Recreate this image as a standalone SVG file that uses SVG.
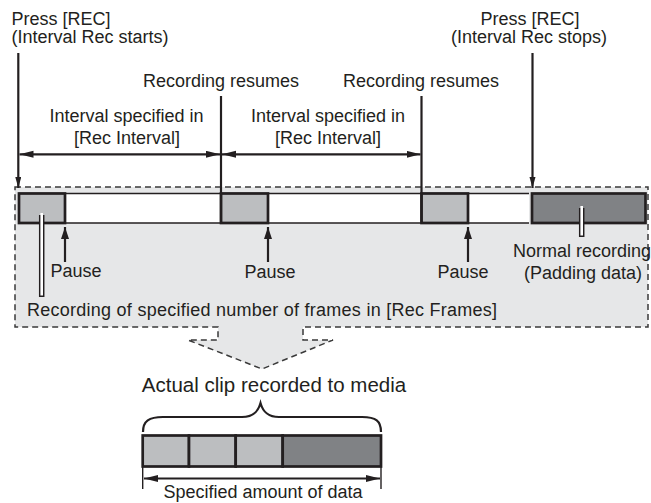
<svg xmlns="http://www.w3.org/2000/svg" width="651" height="503" viewBox="0 0 651 503">
<style>
text{font-family:"Liberation Sans",Arial,sans-serif;font-size:18px;fill:#231f20}
.ln{stroke:#231f20;stroke-width:2.2;fill:none}
.thin{stroke:#231f20;stroke-width:1.4;fill:none}
.box{stroke:#231f20;stroke-width:2.7}
.lg{fill:#bcbec0}
.dg{fill:#808285}
.mk1{stroke:#231f20;stroke-width:5.5}
.mk2{stroke:#ffffff;stroke-width:2.6}
</style>
<defs>
<marker id="ah" markerUnits="userSpaceOnUse" markerWidth="15" markerHeight="8" refX="14" refY="3.5" orient="auto-start-reverse"><path d="M0,0 L14,3.5 L0,7 Z" fill="#231f20"/></marker>
<marker id="av" markerUnits="userSpaceOnUse" markerWidth="12" markerHeight="7" refX="11" refY="3" orient="auto"><path d="M0,0 L11,3 L0,6 Z" fill="#231f20"/></marker>
<marker id="ap" markerUnits="userSpaceOnUse" markerWidth="13" markerHeight="9" refX="12" refY="4" orient="auto"><path d="M0,0 L12,4 L0,8 Z" fill="#231f20"/></marker>
</defs>

<g id="region">
<path d="M15,187 H648 V327 H303 V340 H333 L262,369 L188,340 H218 V327 H15 Z" fill="#e6e7e8" stroke="#3a3a3a" stroke-width="1.5" stroke-dasharray="6,4"/>
</g>

<g id="strip">
<rect x="19" y="193.5" width="510" height="29.5" fill="#ffffff"/>
<line class="thin" x1="19" y1="193.5" x2="529" y2="193.5"/>
<line class="thin" x1="19" y1="223" x2="529" y2="223"/>
</g>

<g id="seg1"><rect class="box lg" x="19" y="193.5" width="46" height="29.5"/></g>
<g id="seg2"><rect class="box lg" x="221" y="193.5" width="47" height="29.5"/></g>
<g id="seg3"><rect class="box lg" x="421.5" y="193.5" width="46.5" height="29.5"/></g>
<g id="seg4"><rect class="box dg" x="532" y="193.5" width="113.5" height="29.5"/></g>

<g id="connectors">
<line class="ln" x1="18.3" y1="53" x2="18.3" y2="188" marker-end="url(#av)"/>
<line class="ln" x1="532.5" y1="53" x2="532.5" y2="188" marker-end="url(#av)"/>
<line class="ln" x1="221" y1="96" x2="221" y2="223"/>
<line class="ln" x1="421.5" y1="96" x2="421.5" y2="223"/>
<line class="ln" x1="19.5" y1="154.3" x2="220" y2="154.3" marker-start="url(#ah)" marker-end="url(#ah)"/>
<line class="ln" x1="222" y1="154.3" x2="420.5" y2="154.3" marker-start="url(#ah)" marker-end="url(#ah)"/>
<line class="ln" x1="65" y1="262" x2="65" y2="227" marker-end="url(#ap)"/>
<line class="ln" x1="268" y1="262" x2="268" y2="227" marker-end="url(#ap)"/>
<line class="ln" x1="468" y1="262" x2="468" y2="227" marker-end="url(#ap)"/>
<line class="mk1" x1="41.7" y1="215" x2="41.7" y2="297"/>
<line class="mk2" x1="41.7" y1="213" x2="41.7" y2="295.5"/>
<line class="mk1" x1="581.7" y1="208" x2="581.7" y2="237"/>
<line class="mk2" x1="581.7" y1="206" x2="581.7" y2="235.5"/>
<path class="ln" d="M143,432 C143,421 149,417 163,417 H242 C253,417 258,412 260.5,403 C263,412 268,417 279,417 H362 C376,417 381,421 381,432"/>
<line class="ln" x1="144" y1="478.5" x2="380" y2="478.5" marker-start="url(#ah)" marker-end="url(#ah)"/>
<line class="thin" x1="142.7" y1="466" x2="142.7" y2="489"/>
<line class="thin" x1="381" y1="466" x2="381" y2="489"/>
</g>

<g id="clip">
<rect class="box lg" x="142.7" y="435.5" width="46.3" height="31"/>
<rect class="box lg" x="189" y="435.5" width="46.7" height="31"/>
<rect class="box lg" x="235.7" y="435.5" width="47" height="31"/>
<rect class="box dg" x="282.7" y="435.5" width="98.3" height="31"/>
</g>

<g id="labels">
<text x="11.5" y="24.5">Press [REC]</text>
<text x="11.5" y="43">(Interval Rec starts)</text>
<text x="530" y="24.5" text-anchor="middle">Press [REC]</text>
<text x="529" y="43" text-anchor="middle">(Interval Rec stops)</text>
<text x="221" y="87" text-anchor="middle">Recording resumes</text>
<text x="421" y="87" text-anchor="middle">Recording resumes</text>
<text x="126.5" y="122" text-anchor="middle">Interval specified in</text>
<text x="127" y="144" text-anchor="middle">[Rec Interval]</text>
<text x="328" y="122" text-anchor="middle">Interval specified in</text>
<text x="328" y="144" text-anchor="middle">[Rec Interval]</text>
<text x="76" y="277" text-anchor="middle">Pause</text>
<text x="270" y="278" text-anchor="middle">Pause</text>
<text x="463" y="278" text-anchor="middle">Pause</text>
<text x="582" y="257" text-anchor="middle">Normal recording</text>
<text x="583" y="279" text-anchor="middle">(Padding data)</text>
<text x="27" y="316" textLength="470">Recording of specified number of frames in [Rec Frames]</text>
<text x="274" y="392" text-anchor="middle" style="font-size:20.5px">Actual clip recorded to media</text>
<text x="263" y="497.5" text-anchor="middle">Specified amount of data</text>
</g>
</svg>
